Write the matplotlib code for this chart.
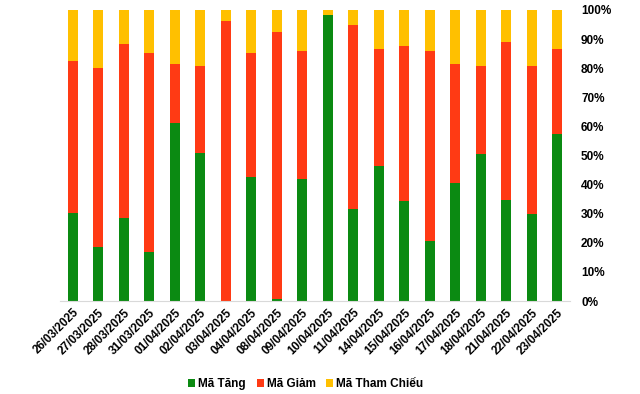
import matplotlib.pyplot as plt
import numpy as np
from matplotlib.ticker import PercentFormatter

plt.rcParams['font.family'] = ['Liberation Sans', 'DejaVu Sans']

dates = ['26/03/2025', '27/03/2025', '28/03/2025', '31/03/2025', '01/04/2025',
         '02/04/2025', '03/04/2025', '04/04/2025', '08/04/2025', '09/04/2025',
         '10/04/2025', '11/04/2025', '14/04/2025', '15/04/2025', '16/04/2025',
         '17/04/2025', '18/04/2025', '21/04/2025', '22/04/2025', '23/04/2025']

# share of stocks (%) per session
tang = [30.3, 18.6, 28.6, 16.9, 61.2, 50.9, 0.0, 42.6, 0.7, 41.9,
        98.3, 31.6, 46.5, 34.4, 20.6, 40.5, 50.5, 34.7, 30.0, 57.4]
giam = [52.2, 61.5, 59.8, 68.3, 20.4, 29.9, 96.2, 42.6, 91.7, 44.0,
        0.0, 63.2, 40.1, 53.2, 65.3, 40.9, 30.3, 54.3, 50.8, 29.2]
tham_chieu = [100 - a - b for a, b in zip(tang, giam)]

fig = plt.figure(figsize=(6.4, 3.94), dpi=100)
ax = fig.add_axes([60 / 640, 1 - 301 / 394, 510 / 640, 291 / 394])

x = np.arange(len(dates))
w = 0.4
ax.bar(x, tang, w, color='#0B8A12', label='Mã Tăng')
ax.bar(x, giam, w, bottom=tang, color='#FF3A14', label='Mã Giảm')
ax.bar(x, tham_chieu, w, bottom=np.array(tang) + np.array(giam),
       color='#FFC000', label='Mã Tham Chiếu')

ax.set_xlim(-0.5, len(dates) - 0.5)
ax.set_ylim(0, 100)
ax.set_yticks(range(0, 101, 10))
ax.yaxis.set_major_formatter(PercentFormatter(decimals=0))
ax.yaxis.tick_right()
ax.tick_params(axis='y', length=0, pad=8, labelsize=8.5)
ax.tick_params(axis='x', length=0, pad=4, labelsize=8.5)
ax.set_xticks(x)
ax.set_xticklabels(dates, rotation=45, ha='right', rotation_mode='anchor')
for lbl in ax.get_xticklabels() + ax.get_yticklabels():
    lbl.set_fontweight('bold')

for s in ['top', 'left', 'right']:
    ax.spines[s].set_visible(False)
ax.spines['bottom'].set_color('#d9d9d9')

fig.legend(loc='center', bbox_to_anchor=(0.478, 1 - 384 / 394), ncol=3,
           frameon=False, prop={'size': 8.5, 'weight': 'bold'},
           handlelength=0.6, handleheight=0.6,
           handletextpad=0.25, columnspacing=0.9)

fig.savefig('out.png', dpi=100)
